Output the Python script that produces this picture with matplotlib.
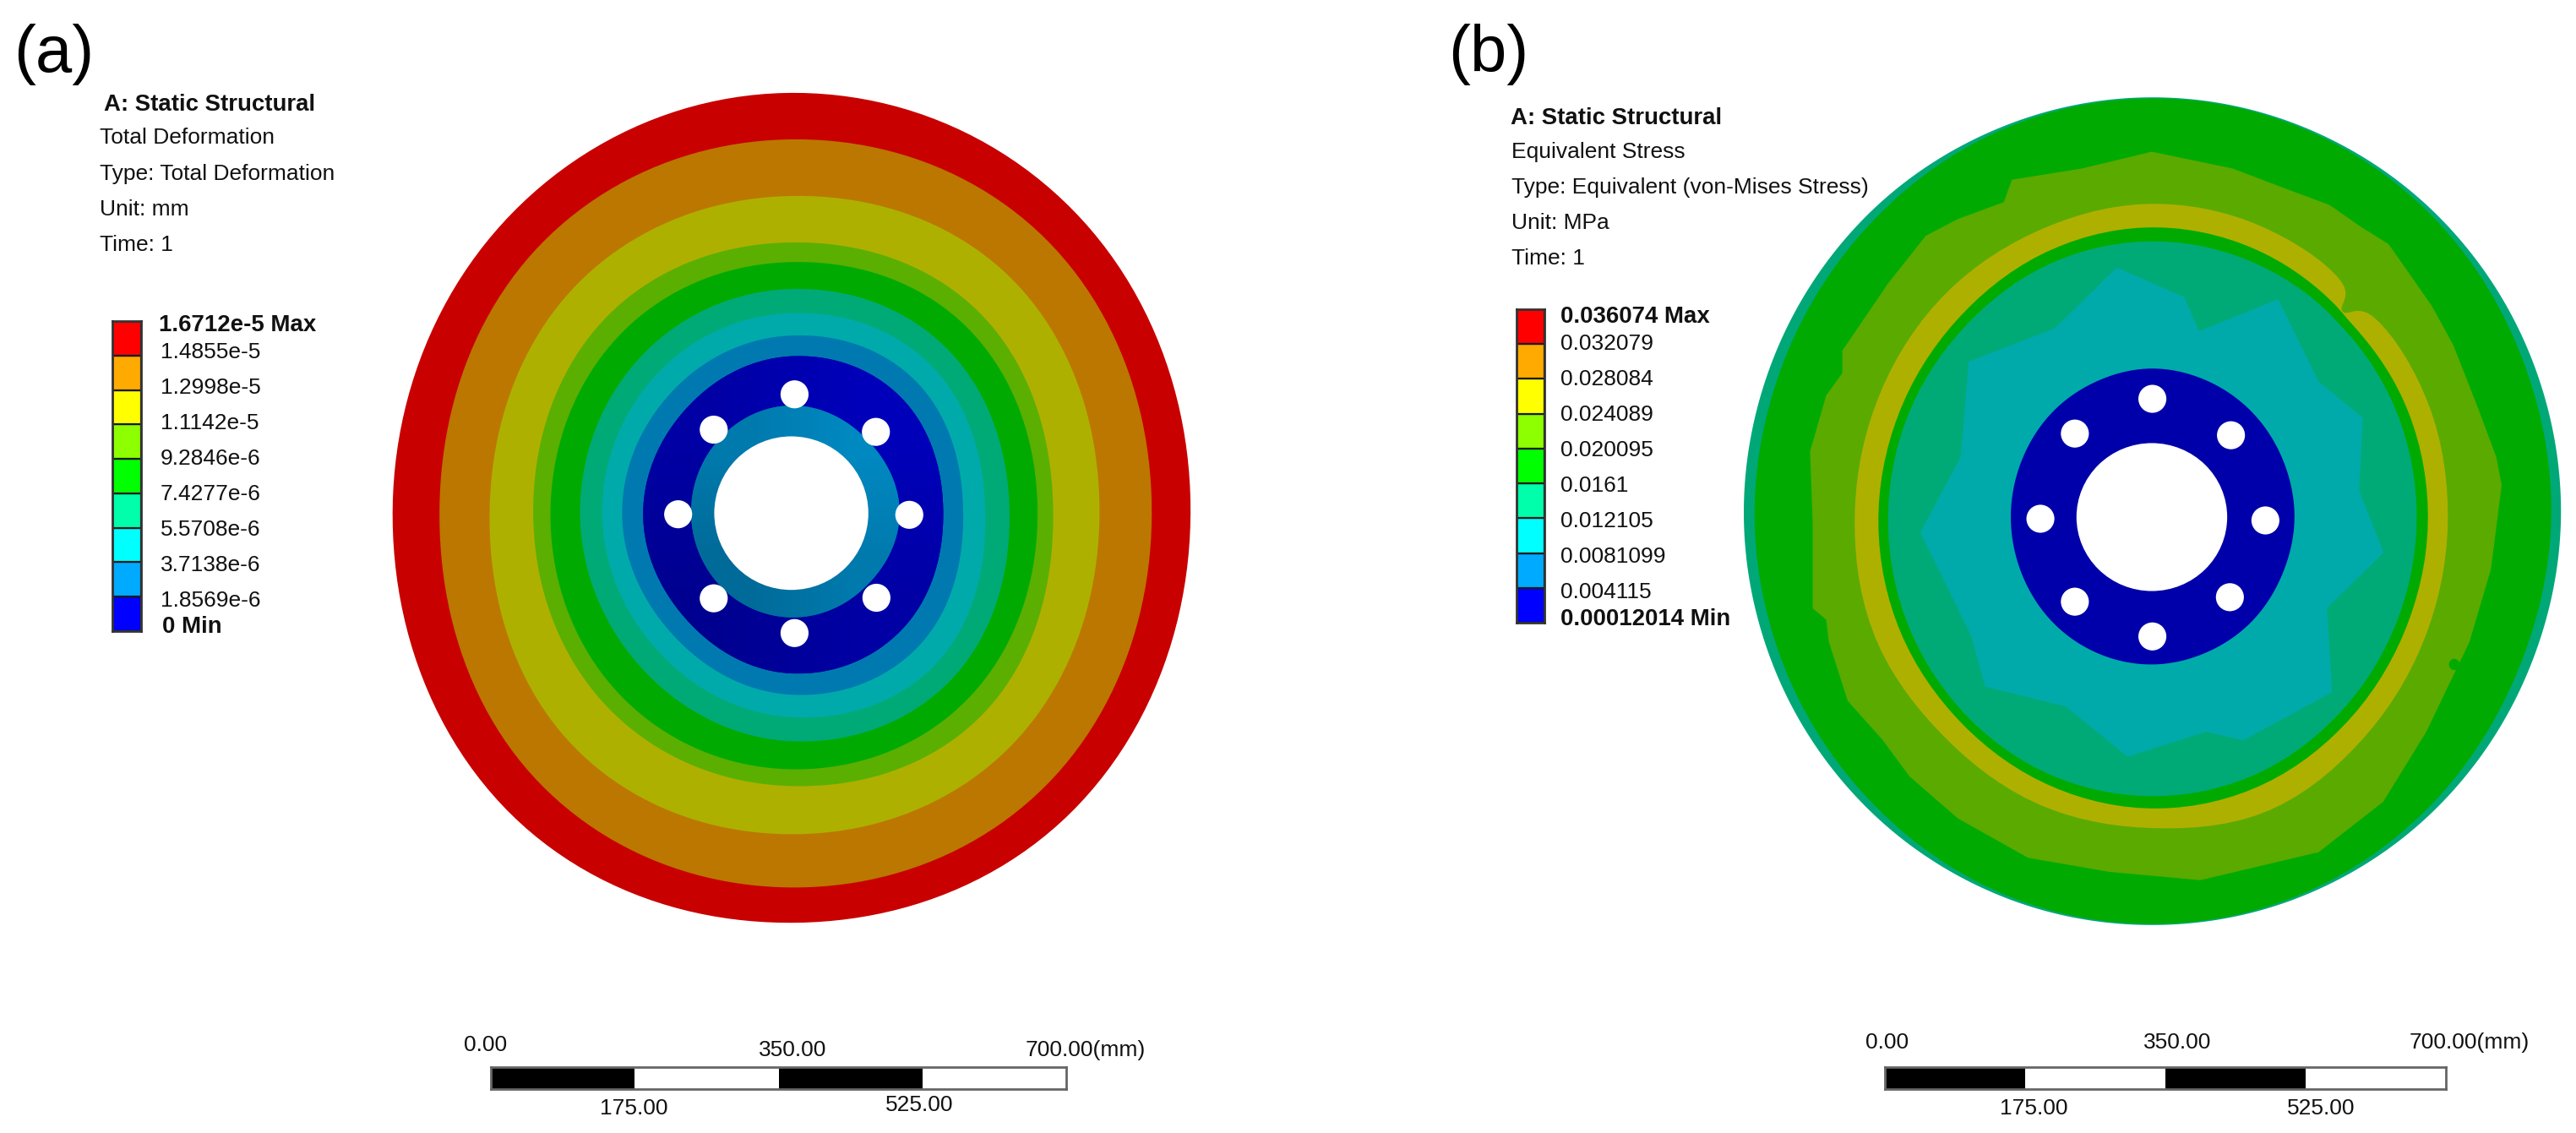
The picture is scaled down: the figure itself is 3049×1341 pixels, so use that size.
import numpy as np
import matplotlib
matplotlib.use("Agg")
import matplotlib.pyplot as plt
from matplotlib.patches import Ellipse
from matplotlib.colors import LinearSegmentedColormap

plt.rcParams['font.family'] = ['Liberation Sans', 'DejaVu Sans']
W, H = 3049, 1341

# ---------- data ----------
ansys_colors = ['#0000ff', '#00aaff', '#00ffff', '#00ffaa', '#00ff00',
                '#8eff00', '#ffff00', '#ffaa00', '#ff0000']

a_header = ['Total Deformation', 'Type: Total Deformation', 'Unit: mm', 'Time: 1']
a_labels = ['1.4855e-5', '1.2998e-5', '1.1142e-5', '9.2846e-6', '7.4277e-6',
            '5.5708e-6', '3.7138e-6', '1.8569e-6']
a_max, a_min = '1.6712e-5 Max', '0 Min'

b_header = ['Equivalent Stress', 'Type: Equivalent (von-Mises Stress)', 'Unit: MPa', 'Time: 1']
b_labels = ['0.032079', '0.028084', '0.024089', '0.020095', '0.0161',
            '0.012105', '0.0081099', '0.004115']
b_max, b_min = '0.036074 Max', '0.00012014 Min'

scale_ticks = [0, 175, 350, 525, 700]
scale_texts = ['0.00', '175.00', '350.00', '525.00', '700.00(mm)']

# panel (a): band radii at eight directions, outermost first
a_theta = [0, 45, 90, 135, 180, 225, 270, 315]
a_red    = [741, 752, 750, 745, 740, 748, 731, 745]
a_orange = [669, 680, 667, 668, 653, 671, 668, 678]
a_yellow = [572, 585, 566, 570, 560, 580, 573, 582]
a_lime   = [486, 500, 483, 490, 479, 486, 487, 505]
a_green  = [457, 465, 448, 450, 447, 454, 457, 466]
a_teal   = [405, 412, 400, 395, 392, 392, 407, 420]
a_cyan   = [360, 370, 357, 352, 351, 349, 364, 380]
a_blue   = [319, 330, 317, 310, 314, 309, 324, 335]
a_navy   = [282, 290, 280, 270, 275, 272, 286, 292]
a_ring   = [201, 192, 192, 188, 186, 185, 186, 190]
a_band_colors = ['#c80000', '#bb7700', '#aeb000', '#5aaf00', '#00aa00',
                 '#00aa77', '#00aaaa', '#0079b0']
a_navy_range = ['#000090', '#0000bb']
a_ring_range = ['#006a98', '#0088c0']
a_bolts_x = [6, -144, 157, -210, 219, -144, 158, 6]
a_bolts_y = [212, 149, 145, -2, -3, -152, -151, -214]

# panel (b)
b_theta = np.arange(0, 360, 22.5)
b_teal_out = [760, 760, 756, 751, 749, 750, 755, 758, 758, 751, 741, 732, 728, 732, 741, 751]
b_green    = [742, 744, 748, 748, 747, 745, 740, 738, 738, 733, 728, 727, 726, 728, 730, 733]
lime_edge_x = [1430, 1420, 1385, 1340, 1300, 1220, 1170, 1110, 1040, 930, 780, 650, 520, 505,
               420, 360, 290, 205, 205, 175, 145, 150, 150, 175, 180, 215, 280, 330, 420, 550,
               700, 870, 1090, 1210, 1290, 1370, 1410]
lime_edge_y = [730, 680, 590, 480, 410, 300, 270, 230, 205, 165, 135, 165, 185, 225,
               255, 285, 370, 490, 530, 570, 670, 800, 950, 970, 1010, 1115, 1185, 1250, 1325, 1395,
               1420, 1435, 1385, 1295, 1170, 1010, 880]
b_yel_theta = [0, 22.5, 41, 46, 50, 67.5, 90, 112.5, 135, 157.5, 180, 202.5, 225, 247.5, 270, 292.5, 315, 337.5]
b_yellow    = [550, 552, 545, 510, 548, 557, 559, 553, 553, 551, 552, 557, 550, 554, 555, 567, 557, 551]
b_thin      = [513, 512, 507, 508, 510, 515, 517, 512, 505, 505, 508, 510, 510, 515, 520, 520, 515, 512]
b_teal_in   = [492, 492, 490, 490, 491, 492, 492, 490, 486, 488, 490, 492, 494, 497, 498, 498, 494, 492]
star_theta = [98.3, 81.3, 75.2, 58.9, 38, 24.3, 7, -8.3, -26.6, -43, -66.9, -75.4, -96,
              -115.3, -135.7, -147.5, -176.3, 163.2, 140.8, 118.1]
star_r = [450, 397, 343, 454, 393, 430, 388, 435, 364, 458, 433, 396, 430,
          374, 433, 397, 431, 371, 439, 382]
b_hub = [265, 264, 264, 264, 265, 263, 263, 262, 262, 262, 263, 263, 263, 262, 263, 263]
b_bolts_x = [1, -143, 147, -207, 211, -143, 145, 1]
b_bolts_y = [211, 149, 146, -3, -6, -151, -143, -213]


def closed_curve(theta, r, n=24):
    """Closed curve through read radii: Catmull-Rom on (angle, radius)."""
    th = np.asarray(theta, float)
    rr = np.asarray(r, float)
    tx = np.concatenate([[th[-1] - 360], th, [th[0] + 360, th[1] + 360]])
    rx = np.concatenate([[rr[-1]], rr, [rr[0], rr[1]]])
    u = np.linspace(0, 1, n, endpoint=False)
    ts, rs = [], []
    for i in range(1, len(th) + 1):
        for arr, out in ((tx, ts), (rx, rs)):
            p0, p1, p2, p3 = arr[i - 1], arr[i], arr[i + 1], arr[i + 2]
            out.append(0.5 * (2 * p1 + (p2 - p0) * u + (2 * p0 - 5 * p1 + 4 * p2 - p3) * u ** 2
                              + (3 * p1 - p0 - 3 * p2 + p3) * u ** 3))
    t = np.radians(np.concatenate(ts))
    q = np.concatenate(rs)
    return q * np.cos(t), q * np.sin(t)


def polar(theta, r):
    t = np.radians(np.asarray(theta, float))
    r = np.asarray(r, float)
    return r * np.cos(t), r * np.sin(t)


fig = plt.figure(figsize=(W / 100, H / 100), dpi=100, facecolor='white')


def px_axes(x0, y0, x1, y1, **kw):
    return fig.add_axes([x0 / W, 1 - y1 / H, (x1 - x0) / W, (y1 - y0) / H], **kw)


def disc_axes(x0, y0, x1, y1, cx, cy):
    ax = px_axes(x0, y0, x1, y1)
    ax.axis('off')
    ax.limits = (-cx, 1568 - cx, -(1568 - cy), cy)
    return ax


def holes(ax, bx, by, hole_w, hole_h, w=52, h=50):
    for x, y in zip(bx, by):
        ax.add_patch(Ellipse((x, y), w, h, fc='white', ec='none', zorder=20))
    ax.add_patch(Ellipse((0, 0), hole_w, hole_h, fc='white', ec='none', zorder=20))


def shaded(ax, theta, radii, colors):
    """Band whose colour darkens from upper right to lower left."""
    x, y = closed_curve(theta, radii)
    patch = ax.fill(x, y, color=colors[0], lw=0)[0]
    cmap = LinearSegmentedColormap.from_list('band', colors)
    im = ax.imshow([[0.5, 1.0], [0.0, 0.5]], extent=(x.min(), x.max(), y.min(), y.max()),
                   origin='upper', cmap=cmap, vmin=0, vmax=1, aspect='auto',
                   interpolation='bilinear', zorder=patch.get_zorder())
    im.set_clip_path(patch)


# ---------- panel (a) disc ----------
axa = disc_axes(450, 90, 1450, 1130, 763, 780)
bands = [a_red, a_orange, a_yellow, a_lime, a_green, a_teal, a_cyan, a_blue]
for radii, col in zip(bands, a_band_colors):
    x, y = closed_curve(a_theta, radii)
    axa.fill(x, y, color=col, lw=0)
shaded(axa, a_theta, a_navy, a_navy_range)
shaded(axa, a_theta, a_ring, a_ring_range)
holes(axa, a_bolts_x, a_bolts_y, 286, 274)
axa.set_xlim(axa.limits[0], axa.limits[1]); axa.set_ylim(axa.limits[2], axa.limits[3])

# ---------- panel (b) disc ----------
axb = disc_axes(2050, 90, 3049, 1130, 780, 787)
x, y = closed_curve(b_theta, b_teal_out); axb.fill(x, y, color='#00a878', lw=0)
x, y = closed_curve(b_theta, b_green);    axb.fill(x, y, color='#00aa00', lw=0)
axb.fill(np.array(lime_edge_x) - 780, 787 - np.array(lime_edge_y), color='#5aaa00', lw=0)
x, y = closed_curve(b_yel_theta, b_yellow, 8); axb.fill(x, y, color='#aeb000', lw=0)
x, y = closed_curve(b_yel_theta, b_thin, 8);   axb.fill(x, y, color='#00aa00', lw=0)
x, y = closed_curve(b_yel_theta, b_teal_in, 8); axb.fill(x, y, color='#00aa77', lw=0)
x, y = polar(star_theta, star_r); axb.fill(x, y, color='#00aaaa', lw=0)
x, y = closed_curve(b_theta, b_hub); axb.fill(x, y, color='#0000aa', lw=0)
holes(axb, b_bolts_x, b_bolts_y, 280, 264)
axb.add_patch(Ellipse((562, -263), 20, 20, fc='#00aa00', ec='none', zorder=5))
axb.set_xlim(axb.limits[0], axb.limits[1]); axb.set_ylim(axb.limits[2], axb.limits[3])


# ---------- legends ----------
def legend_bar(x0, y0, x1, y1):
    ax = px_axes(x0, y0, x1, y1)
    ax.barh(range(len(ansys_colors)), [1] * len(ansys_colors), height=1, left=0,
            color=ansys_colors, edgecolor='#1a1a1a', linewidth=1.6)
    ax.set_xlim(0, 1)
    ax.set_ylim(-0.5, len(ansys_colors) - 0.5)
    ax.set_xticks([]); ax.set_yticks([])
    for s in ax.spines.values():
        s.set_color('#333333'); s.set_linewidth(2)


legend_bar(133, 380, 167, 747)
legend_bar(1795, 366, 1828, 737)


def scale_bar(x0, y0, x1, y1):
    ax = px_axes(x0, y0, x1, y1)
    lefts = scale_ticks[:-1]
    widths = np.diff(scale_ticks)
    ax.barh([0] * 4, widths, left=lefts, height=1, color=['black', 'white', 'black', 'white'],
            edgecolor='none')
    ax.set_xlim(0, 700); ax.set_ylim(-0.5, 0.5)
    ax.set_xticks([]); ax.set_yticks([])
    for s in ax.spines.values():
        s.set_color('#666666'); s.set_linewidth(2)


scale_bar(581, 1263, 1262, 1289)
scale_bar(2231, 1263, 2895, 1289)

# ---------- text overlay ----------
ov = fig.add_axes([0, 0, 1, 1], zorder=50)
ov.set_xlim(0, W); ov.set_ylim(H, 0); ov.axis('off'); ov.patch.set_alpha(0)
FS = 19.0
FB = 19.9


def T(x, y, s, **kw):
    kw.setdefault('fontsize', FS)
    kw.setdefault('va', 'center')
    kw.setdefault('color', '#111111')
    ov.text(x, y, s, **kw)


T(16, 64, '(a)', fontsize=56, color='black')
T(1714, 64, '(b)', fontsize=56, color='black')

T(123, 124, 'A: Static Structural', fontweight='bold', fontsize=FB)
for y, s in zip([163, 206, 248, 290], a_header):
    T(118, y, s)
T(188, 385, a_max, fontweight='bold', fontsize=FB)
for y, s in zip([417, 459, 501, 543, 585, 627, 669, 711], a_labels):
    T(190, y, s)
T(192, 742, a_min, fontweight='bold', fontsize=FB)

T(1788, 140, 'A: Static Structural', fontweight='bold', fontsize=FB)
for y, s in zip([180, 222, 264, 306], b_header):
    T(1789, y, s)
T(1847, 375, b_max, fontweight='bold', fontsize=FB)
for y, s in zip([407, 449, 491, 533, 575, 617, 659, 701], b_labels):
    T(1847, y, s)
T(1847, 733, b_min, fontweight='bold', fontsize=FB)

for xs, ys in [([575, 750, 938, 1088], [1237, 1312, 1243, 1308]),
               ([2234, 2407, 2577, 2747], [1234, 1312, 1234, 1312])]:
    for x, y, s in zip(xs, ys, scale_texts[:4]):
        T(x, y, s, ha='center')
T(1214, 1243, scale_texts[4])
T(2852, 1234, scale_texts[4])

fig.savefig('out.png', dpi=100, facecolor='white')
